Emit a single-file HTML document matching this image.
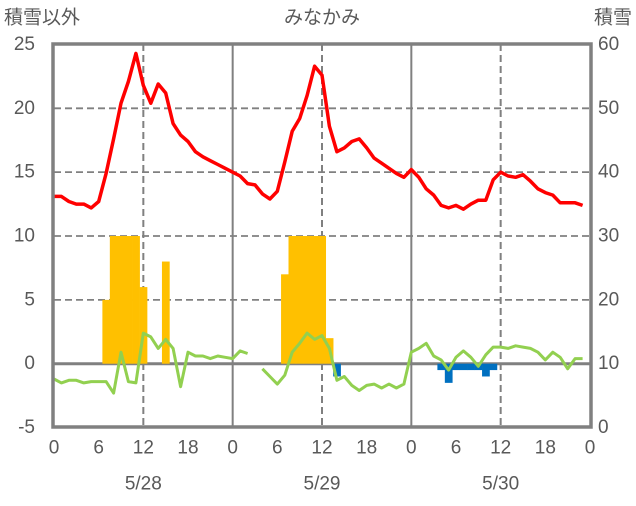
<!DOCTYPE html>
<html><head><meta charset="utf-8"><style>
body{margin:0;background:#fff}
svg text{font-family:"Liberation Sans","Noto Sans CJK JP",sans-serif;fill:#595959}
</style></head><body>
<svg width="636" height="501" viewBox="0 0 636 501" xmlns="http://www.w3.org/2000/svg">
<g id="grid"></g><g id="bars"></g><g id="lines"></g><g id="frame"></g><g id="labels"></g>
</svg>
<script>
const hourTicks=["0","6","12","18","0","6","12","18","0","6","12","18","0"];
const dates=["5/28","5/29","5/30"];
const leftTicks=[-5,0,5,10,15,20,25];
const rightTicks=[0,10,20,30,40,50,60];
const temp=[13.1,13.1,12.7,12.5,12.5,12.2,12.7,14.9,17.6,20.4,22.1,24.3,21.8,20.4,21.9,21.2,18.8,17.9,17.4,16.6,16.2,15.9,15.6,15.3,15.0,14.7,14.1,14.0,13.3,12.9,13.5,15.8,18.2,19.2,21.0,23.3,22.6,18.6,16.6,16.9,17.4,17.6,16.9,16.1,15.7,15.3,14.9,14.6,15.2,14.6,13.7,13.2,12.4,12.2,12.4,12.1,12.5,12.8,12.8,14.4,15.0,14.7,14.6,14.8,14.3,13.7,13.4,13.2,12.6,12.6,12.6,12.4];
const other=[-1.2,-1.5,-1.3,-1.3,-1.5,-1.4,-1.4,-1.4,-2.3,0.9,-1.4,-1.5,2.4,2.1,1.2,1.9,1.2,-1.8,0.9,0.6,0.6,0.4,0.6,0.5,0.4,1.0,0.8,null,-0.4,-1.0,-1.6,-0.9,0.9,1.6,2.4,1.9,2.2,1.2,-1.3,-1.0,-1.7,-2.1,-1.7,-1.6,-1.9,-1.6,-1.9,-1.6,0.9,1.2,1.6,0.6,0.3,-0.5,0.5,1.0,0.5,-0.2,0.7,1.3,1.3,1.2,1.4,1.3,1.2,0.9,0.3,0.9,0.5,-0.4,0.4,0.4];
const snow=[0,0,0,0,0,0,0,5,10,10,10,10,6,0,0,8,0,0,0,0,0,0,0,0,0,0,0,0,0,0,0,7,10,10,10,10,10,2,-1,0,0,0,0,0,0,0,0,0,0,0,0,0,-0.5,-1.5,-0.5,-0.5,-0.5,-0.5,-1.0,-0.5,0,0,0,0,0,0,0,0,0,0,0,0];

const NS="http://www.w3.org/2000/svg";
const X0=54,X1=590,HW=(X1-X0)/72;
const x=h=>X0+h*HW;
const y=v=>363.7-v*12.77;
function mk(tag,attrs,parent){const e=document.createElementNS(NS,tag);for(const k in attrs)e.setAttribute(k,attrs[k]);document.getElementById(parent).appendChild(e);return e;}

// grid
leftTicks.forEach(v=>{if(v===-5||v===25)return;
 const l=mk('line',{x1:X0,x2:X1,y1:y(v),y2:y(v),stroke:'#808080','stroke-width':v===0?3:1.8,'stroke-dasharray':v===0?'':'7,4'},'grid');
 
 });
for(let h=12;h<72;h+=12){const day=h%24===0;
 const l=mk('line',{x1:x(h),x2:x(h),y1:44,y2:427,stroke:'#808080','stroke-width':day?2:2,'stroke-dasharray':day?'':'7,4'},'grid');
 
 }

// bars
snow.forEach((v,h)=>{if(!v)return;
 const r=mk('rect',{x:x(h)-HW/2,width:HW+0.3,y:Math.min(y(v),y(0)),height:Math.abs(y(v)-y(0)),fill:v>0?'#FFC000':'#0070C0'},'bars');
 
 });

// lines
function path(arr){let d='',pen=false;arr.forEach((v,h)=>{if(v===null){pen=false;return;}d+=(pen?'L':'M')+x(h).toFixed(1)+','+y(v).toFixed(1);pen=true;});return d;}
const g=mk('path',{d:path(other),fill:'none',stroke:'#92D050','stroke-width':3,'stroke-linejoin':'round'},'lines');


const t=mk('path',{d:path(temp),fill:'none',stroke:'#FF0000','stroke-width':3.5,'stroke-linejoin':'round'},'lines');



// frame
const f=mk('rect',{x:X0-1,y:44,width:X1-X0+2,height:383,fill:'none',stroke:'#808080','stroke-width':3.5},'frame');



// labels
function txt(s,xx,yy,anchor,name){const e=mk('text',{x:xx,y:yy,'text-anchor':anchor,'font-size':19,'dominant-baseline':'central'},'labels');e.textContent=s;
 
 return e;}
leftTicks.forEach(v=>txt(String(v),35,y(v),'end','left-tick-label'));
rightTicks.forEach(v=>txt(String(v),598,y(v/2-5),'start','right-tick-label'));
hourTicks.forEach((s,i)=>txt(s,x(i*6),448,'middle','x-tick-label'));
dates.forEach((s,i)=>txt(s,x(12+i*24),484,'middle','date-label'));
txt('積雪以外',4,18,'start','left-axis-title');
txt('みなかみ',322,18,'middle','chart-title');
txt('積雪',632,18,'end','right-axis-title');
</script>
</body></html>
